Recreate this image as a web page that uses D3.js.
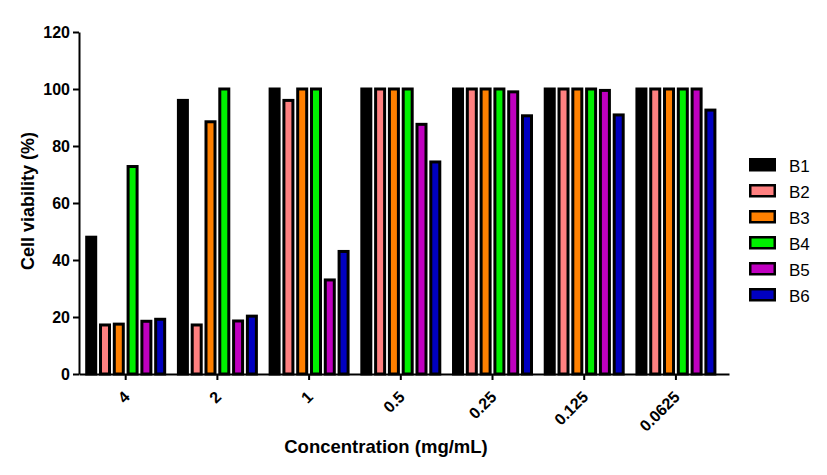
<!DOCTYPE html>
<html>
<head>
<meta charset="utf-8">
<script src="https://cdn.jsdelivr.net/npm/d3@7/dist/d3.min.js"></script>
<style>
  html, body { margin: 0; padding: 0; background: #ffffff; }
  svg { display: block; }
  text { font-family: Arial, "Liberation Sans", sans-serif; fill: #000; }
</style>
</head>
<body>
<svg id="chart" width="827" height="475"></svg>
<script>
const categories = ["4", "2", "1", "0.5", "0.25", "0.125", "0.0625"];
const seriesNames = ["B1", "B2", "B3", "B4", "B5", "B6"];
const seriesColors = ["#000000", "#ff8080", "#ff8000", "#00f000", "#c000c0", "#0000c0"];
const B1 = [48, 96, 100, 100, 100, 100, 100];
const B2 = [17.2, 17.2, 96, 100, 100, 100, 100];
const B3 = [17.5, 88.5, 100, 100, 100, 100, 100];
const B4 = [72.8, 100, 100, 100, 100, 100, 100];
const B5 = [18.5, 18.6, 33, 87.6, 99, 99.5, 100];
const B6 = [19.2, 20.3, 43, 74.4, 90.6, 90.9, 92.6];
const seriesValues = [B1, B2, B3, B4, B5, B6];
const yTicks = [0, 20, 40, 60, 80, 100, 120];
const yLabel = "Cell viability (%)";
const xLabel = "Concentration (mg/mL)";

const svg = d3.select("#chart");

const x0 = d3.scaleBand().domain(categories).range([79, 729])
  .paddingInner(0.117).paddingOuter(0.1025).align(0.33);
const x1 = d3.scaleBand().domain(seriesNames).range([0, x0.bandwidth()])
  .paddingInner(0.13).paddingOuter(0);
const y = d3.scaleLinear().domain([0, 120]).range([374, 32]);
const color = d3.scaleOrdinal().domain(seriesNames).range(seriesColors);

const sw = 3;
// bars
const groups = svg.append("g").selectAll("g").data(categories).join("g")
  .attr("transform", d => `translate(${x0(d)},0)`);
groups.selectAll("rect")
  .data((c, ci) => seriesNames.map((s, si) => ({ s, v: seriesValues[si][ci] })))
  .join("rect")
  .attr("x", d => x1(d.s) + sw / 2)
  .attr("width", x1.bandwidth() - sw)
  .attr("y", d => y(d.v))
  .attr("height", d => y(0) - y(d.v))
  .attr("fill", d => color(d.s))
  .attr("stroke", "#000")
  .attr("stroke-width", sw);

// y axis
const yAxis = svg.append("g").attr("transform", "translate(79,0)")
  .call(d3.axisLeft(y).tickValues(yTicks).tickSize(6).tickPadding(3).tickSizeOuter(0));
yAxis.select(".domain").attr("stroke", "#000").attr("stroke-width", 2);
yAxis.selectAll(".tick line").attr("stroke", "#000").attr("stroke-width", 2);
yAxis.selectAll(".tick text").attr("font-size", 16).attr("font-weight", "bold")
  .attr("font-family", "Arial, 'Liberation Sans', sans-serif").attr("fill", "#000");

// x axis
const xAxis = svg.append("g").attr("transform", "translate(0,374)")
  .call(d3.axisBottom(x0).tickSize(6).tickSizeOuter(0));
xAxis.select(".domain").attr("stroke", "#000").attr("stroke-width", 2);
xAxis.selectAll(".tick line").attr("stroke", "#000").attr("stroke-width", 2);
xAxis.selectAll(".tick text")
  .attr("font-size", 16).attr("font-weight", "bold")
  .attr("font-family", "Arial, 'Liberation Sans', sans-serif").attr("fill", "#000")
  .attr("text-anchor", "end")
  .attr("y", 0).attr("dy", 0)
  .attr("transform", "translate(5,24) rotate(-45)");

// axis titles
svg.append("text")
  .attr("transform", "translate(34,201) rotate(-90)")
  .attr("text-anchor", "middle")
  .attr("font-size", 18).attr("font-weight", "bold")
  .text(yLabel);
svg.append("text")
  .attr("x", 386).attr("y", 453)
  .attr("text-anchor", "middle")
  .attr("font-size", 18.5).attr("font-weight", "bold")
  .text(xLabel);

// legend
const legend = svg.append("g").selectAll("g").data(seriesNames).join("g")
  .attr("transform", (d, i) => `translate(749,${158 + i * 26})`);
legend.append("rect")
  .attr("x", 1.25).attr("y", 1.25)
  .attr("width", 24.5).attr("height", 11)
  .attr("fill", d => color(d))
  .attr("stroke", "#000").attr("stroke-width", 2.5);
legend.append("text")
  .attr("x", 40).attr("y", 13.5)
  .attr("font-size", 17)
  .text(d => d);
</script>
</body>
</html>
